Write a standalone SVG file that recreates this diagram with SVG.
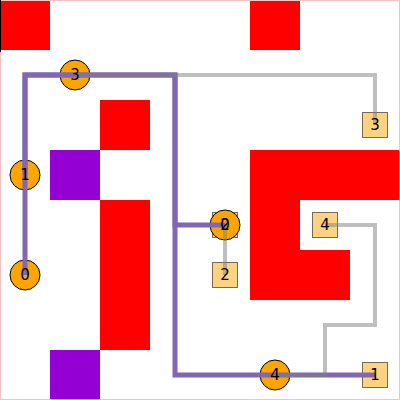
<svg xmlns="http://www.w3.org/2000/svg" width="400" height="400" viewBox="0 0 400 400">
<style>
.red{fill:#ff0000}
.vio{fill:#9400d3}
.agent circle{fill:#ffa500;stroke:#000;stroke-width:1}
.goal rect{fill:#ffd280;stroke:#7a6a55;stroke-width:1}
.lbl{font-family:"DejaVu Sans",sans-serif;font-size:15px;fill:#000;text-anchor:middle;dominant-baseline:central}
.plan{fill:none;stroke:#8066b3;stroke-width:5;stroke-linejoin:miter}
.route{fill:none;stroke:#808080;stroke-opacity:0.5;stroke-width:4;stroke-linejoin:miter}
</style>
<rect width="400" height="400" fill="#fff"/>
<g id="obstacles">
<rect class="red" x="0" y="0" width="50" height="50"/>
<rect class="red" x="250" y="0" width="50" height="50"/>
<rect class="red" x="100" y="100" width="50" height="50"/>
<rect class="vio" x="50" y="150" width="50" height="50"/>
<rect class="red" x="100" y="200" width="50" height="150"/>
<rect class="red" x="250" y="150" width="150" height="50"/>
<rect class="red" x="250" y="200" width="50" height="100"/>
<rect class="red" x="300" y="250" width="50" height="50"/>
<rect class="vio" x="50" y="350" width="50" height="50"/>
</g>
<rect x="0.5" y="0.5" width="399" height="399" fill="none" stroke="#f2c4c4" stroke-width="1"/>
<line x1="0.5" y1="0" x2="0.5" y2="52" stroke="#000" stroke-width="1"/>
<g id="goal-3" class="goal"><rect x="362.5" y="112.5" width="25" height="25"/></g>
<g id="goal-0" class="goal"><rect x="212.5" y="212.5" width="25" height="25"/></g>
<g id="goal-2" class="goal"><rect x="212.5" y="262.5" width="25" height="25"/></g>
<g id="goal-4" class="goal"><rect x="312.5" y="212.5" width="25" height="25"/></g>
<g id="goal-1" class="goal"><rect x="362.5" y="362.5" width="25" height="25"/></g>
<g id="agent-3" class="agent"><circle cx="75" cy="75" r="15"/></g>
<g id="agent-1" class="agent"><circle cx="25" cy="175" r="15"/></g>
<g id="agent-0" class="agent"><circle cx="25" cy="275" r="15"/></g>
<g id="agent-2" class="agent"><circle cx="225" cy="225" r="15"/></g>
<g id="agent-4" class="agent"><circle cx="275" cy="375" r="15"/></g>
<g id="connectors">
<polyline class="plan" points="25,275 25,75 175,75 175,225 225,225"/>
<polyline class="plan" points="25,175 25,75 175,75 175,375 375,375"/>
<polyline class="route" points="75,75 375,75 375,125"/>
<polyline class="route" points="225,225 225,275"/>
<polyline class="route" points="275,375 325,375 325,325 375,325 375,225 325,225"/>
</g>
<g id="labels">
<text class="lbl" x="375" y="125">3</text>
<text class="lbl" x="225" y="225">0</text>
<text class="lbl" x="225" y="275">2</text>
<text class="lbl" x="325" y="225">4</text>
<text class="lbl" x="375" y="375">1</text>
<text class="lbl" x="75" y="75">3</text>
<text class="lbl" x="25" y="175">1</text>
<text class="lbl" x="25" y="275">0</text>
<text class="lbl" x="225" y="225">2</text>
<text class="lbl" x="275" y="375">4</text>
</g>
</svg>
